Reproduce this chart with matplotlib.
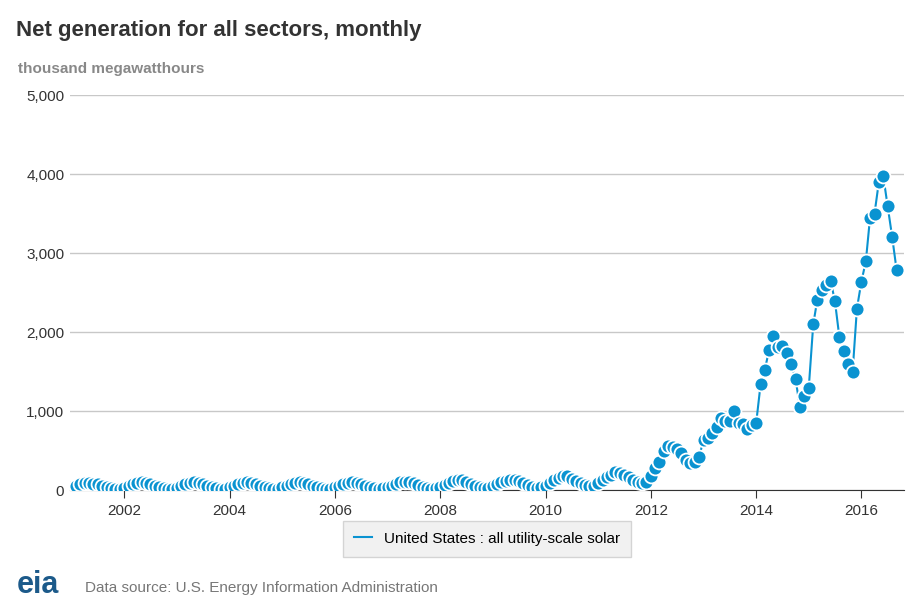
import numpy as np
import pandas as pd
import matplotlib.pyplot as plt
import matplotlib.dates as mdates

plt.rcParams["font.family"] = ["Liberation Sans", "DejaVu Sans"]

BLUE = "#0a93d1"

# monthly values, thousand MWh
early = {
    2001: [40, 55, 75, 90, 95, 85, 80, 60, 40, 25, 20, 20],
    2002: [35, 55, 75, 90, 100, 95, 80, 60, 40, 25, 20, 20],
    2003: [35, 55, 80, 95, 100, 95, 85, 60, 40, 25, 20, 20],
    2004: [40, 60, 80, 95, 100, 95, 85, 60, 40, 25, 20, 20],
    2005: [40, 60, 80, 95, 100, 95, 85, 60, 40, 25, 20, 20],
    2006: [40, 60, 85, 95, 100, 95, 85, 60, 40, 25, 20, 25],
    2007: [40, 60, 85, 100, 105, 100, 90, 65, 40, 25, 20, 25],
    2008: [45, 70, 95, 120, 135, 130, 110, 85, 60, 40, 30, 35],
    2009: [50, 75, 100, 120, 135, 130, 115, 90, 65, 45, 35, 40],
    2010: [60, 95, 130, 160, 185, 180, 150, 120, 90, 65, 55, 60],
    2011: [90, 130, 170, 200, 230, 220, 190, 165, 130, 100, 90, 100],
}
late = [
    180, 280, 355, 495, 560, 550, 520, 470, 380, 350, 360, 420,       # 2012
    640, 660, 720, 800, 910, 880, 880, 1010, 850, 840, 780, 830,      # 2013
    850, 1345, 1520, 1775, 1955, 1810, 1820, 1740, 1600, 1410, 1050, 1200,  # 2014
    1300, 2100, 2410, 2540, 2600, 2650, 2400, 1940, 1765, 1600, 1500, 2300,  # 2015
    2640, 2900, 3450, 3500, 3900, 3970, 3600, 3210, 2790,             # 2016
]
values = [v for y in sorted(early) for v in early[y]] + late
dates = pd.date_range("2001-01-01", periods=len(values), freq="MS")

fig = plt.figure(figsize=(9.2, 6.13), dpi=100)
ax = fig.add_axes([0.076, 0.2, 0.907, 0.645])
ax.plot(dates, values, color=BLUE, lw=1.5, marker="o", ms=10,
        markerfacecolor=BLUE, markeredgecolor="white", markeredgewidth=1.3, zorder=3)

ax.set_ylim(0, 5000)
ax.set_xlim(pd.Timestamp("2000-12-20"), pd.Timestamp("2016-10-25"))
ax.set_yticks(range(0, 5001, 1000))
ax.set_yticklabels([f"{v:,}" for v in range(0, 5001, 1000)], fontsize=11, color="#333333")
ax.yaxis.grid(True, color="#c8c8c8", lw=1)
ax.set_axisbelow(True)
ax.xaxis.set_major_locator(mdates.YearLocator(2, month=1, day=1))
ax.xaxis.set_major_formatter(mdates.DateFormatter("%Y"))
ax.tick_params(axis="x", labelsize=11, labelcolor="#333333", length=6, color="#333333")
ax.tick_params(axis="y", length=0, pad=4)
for s in ["top", "right", "left"]:
    ax.spines[s].set_visible(False)
ax.spines["bottom"].set_color("#333333")

fig.text(0.017, 0.95, "Net generation for all sectors, monthly", fontsize=16,
         fontweight="bold", color="#333333", va="center")
fig.text(0.02, 0.888, "thousand megawatthours", fontsize=11, fontweight="bold",
         color="#888888", va="center")

leg = ax.legend(["United States : all utility-scale solar"], loc="upper center",
                bbox_to_anchor=(0.5, -0.07), frameon=True, fontsize=11,
                handlelength=1.2)
leg.get_frame().set_facecolor("#eeeeee")
leg.get_frame().set_edgecolor("#cccccc")
leg.get_frame().set_boxstyle("square")
for h in leg.legend_handles:
    h.set_marker("")

fig.text(0.018, 0.045, "eia", fontsize=22, fontweight="bold", color="#1c5a8a", va="center")
fig.text(0.092, 0.04, "Data source: U.S. Energy Information Administration",
         fontsize=11, color="#777777", va="center")

fig.savefig("out.png")
